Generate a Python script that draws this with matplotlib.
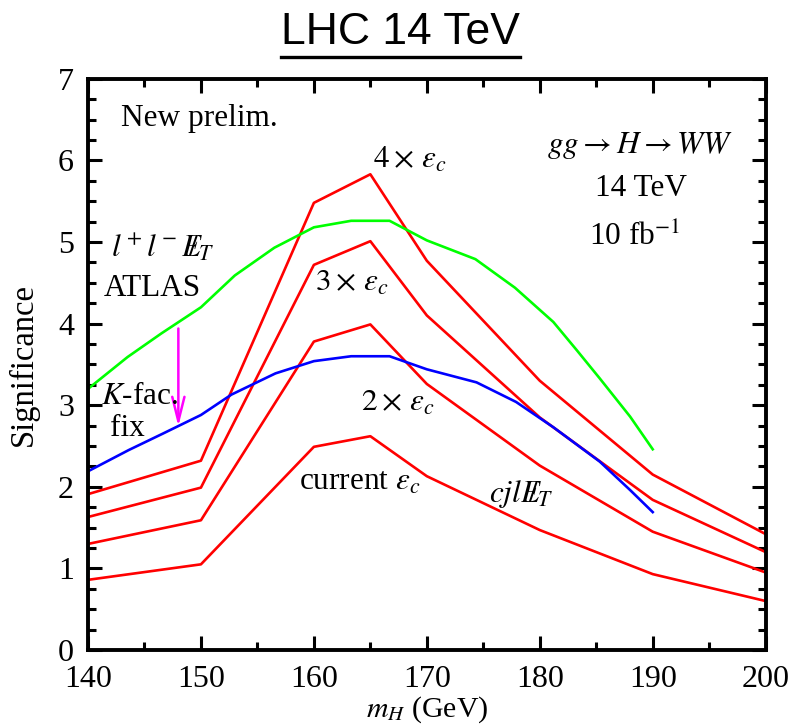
import matplotlib
matplotlib.use("Agg")
import matplotlib.pyplot as plt
from matplotlib.lines import Line2D
from matplotlib.ticker import MultipleLocator

plt.rcParams['font.family'] = ['Liberation Serif', 'DejaVu Serif']
plt.rcParams['mathtext.fontset'] = 'stix'

# red curves: signal significance for different charm-tag efficiencies
mh_red = [140, 150, 160, 165, 170, 180, 190, 200]
sig_4x = [1.91, 2.32, 5.48, 5.83, 4.77, 3.30, 2.15, 1.42]
sig_3x = [1.63, 1.99, 4.72, 5.01, 4.10, 2.85, 1.84, 1.20]
sig_2x = [1.30, 1.59, 3.78, 3.99, 3.26, 2.26, 1.45, 0.95]
sig_cur = [0.86, 1.05, 2.49, 2.62, 2.13, 1.47, 0.93, 0.60]

# green: ATLAS l+l- MET
mh_atlas = [140, 143.5, 146.5, 150, 153, 156.5, 160, 163.3, 166.7, 170,
            174.3, 177.8, 181.2, 183.3, 185.3, 188, 190]
sig_atlas = [3.20, 3.59, 3.88, 4.20, 4.59, 4.93, 5.18, 5.26, 5.26, 5.02,
             4.79, 4.44, 4.02, 3.67, 3.33, 2.86, 2.46]

# blue: K-factor fixed
mh_kfix = [140, 143.6, 146.6, 150, 152.7, 156.6, 160, 163.3, 166.7, 170,
           174.4, 177.9, 181.2, 185.3, 188, 190]
sig_kfix = [2.19, 2.45, 2.65, 2.88, 3.13, 3.39, 3.54, 3.60, 3.60, 3.44,
            3.28, 3.04, 2.73, 2.31, 1.96, 1.69]

# arrow from ATLAS curve to K-fac fix curve
arrow_x = 148.0
arrow_from = 3.94
arrow_to = 2.74

fig = plt.figure(figsize=(7.97, 7.27), dpi=100)
ax = fig.add_axes([0.1104, 0.1059, 0.8503, 0.7857])

lw = 1.9
for s in [sig_4x, sig_3x, sig_2x, sig_cur]:
    ax.plot(mh_red, s, color='#ff0000', lw=lw)
ax.plot(mh_atlas, sig_atlas, color='#00ff00', lw=lw)
ax.plot(mh_kfix, sig_kfix, color='#0000ff', lw=lw)

ax.annotate('', xy=(arrow_x, arrow_to), xytext=(arrow_x, arrow_from),
            arrowprops=dict(arrowstyle='->,head_width=0.2,head_length=0.8',
                            color='#ff00ff', lw=1.8,
                            mutation_scale=22, shrinkA=0, shrinkB=0))

ax.set_xlim(140, 200)
ax.set_ylim(0, 7)
ax.xaxis.set_major_locator(MultipleLocator(10))
ax.xaxis.set_minor_locator(MultipleLocator(5))
ax.yaxis.set_major_locator(MultipleLocator(1))
ax.yaxis.set_minor_locator(MultipleLocator(0.25))
ax.tick_params(which='both', direction='in', top=True, right=True,
               labelsize=23, width=2.2)
ax.tick_params(which='major', length=10)
ax.tick_params(which='minor', length=6)
ax.tick_params(axis='x', which='major', pad=11)
ax.tick_params(axis='y', which='major', pad=10)
for sp in ax.spines.values():
    sp.set_linewidth(2.8)

ax.set_xlabel(r'$m_H$ (GeV)', fontsize=21.5, labelpad=0)
ax.set_ylabel('Significance', fontsize=23.5, labelpad=14)

fs = 22.5
ax.text(149.9, 6.51, 'New prelim.', fontsize=fs, ha='center', va='center')
ax.text(168.5, 6.0, r'$4\times\,\epsilon_c$', fontsize=fs, ha='center', va='center')
ax.text(188.9, 6.18, r'$gg\rightarrow H\rightarrow WW$', fontsize=fs, ha='center', va='center')
ax.text(189.0, 5.65, '14 TeV', fontsize=fs, ha='center', va='center')
ax.text(188.4, 5.05, r'10 fb$^{-1}$', fontsize=fs, ha='center', va='center')
ax.text(146.6, 4.93, r'$l^+l^-E\!\!\!/_T$', fontsize=fs, ha='center', va='center')
ax.text(145.7, 4.43, 'ATLAS', fontsize=fs, ha='center', va='center')
ax.text(163.4, 4.49, r'$3\times\,\epsilon_c$', fontsize=fs, ha='center', va='center')
ax.text(144.6, 3.11, r'$K$-fac.', fontsize=fs, ha='center', va='center')
ax.text(143.5, 2.72, 'fix', fontsize=fs, ha='center', va='center')
ax.text(167.4, 3.02, r'$2\times\,\epsilon_c$', fontsize=fs, ha='center', va='center')
ax.text(164.1, 2.06, r'current $\epsilon_c$', fontsize=fs, ha='center', va='center')
ax.text(178.3, 1.91, r'$cjlE\!\!\!/_T$', fontsize=fs, ha='center', va='center')

title = fig.text(0.502, 0.955, 'LHC 14 TeV', fontsize=32, ha='center', va='center',
                 family='Liberation Sans')
fig.canvas.draw()
bb = title.get_window_extent().transformed(fig.transFigure.inverted())
fig.add_artist(Line2D([bb.x0, bb.x1], [bb.y0 - 0.005, bb.y0 - 0.005],
                      transform=fig.transFigure, color='black', lw=2.4))

fig.savefig('out.png', dpi=100)
